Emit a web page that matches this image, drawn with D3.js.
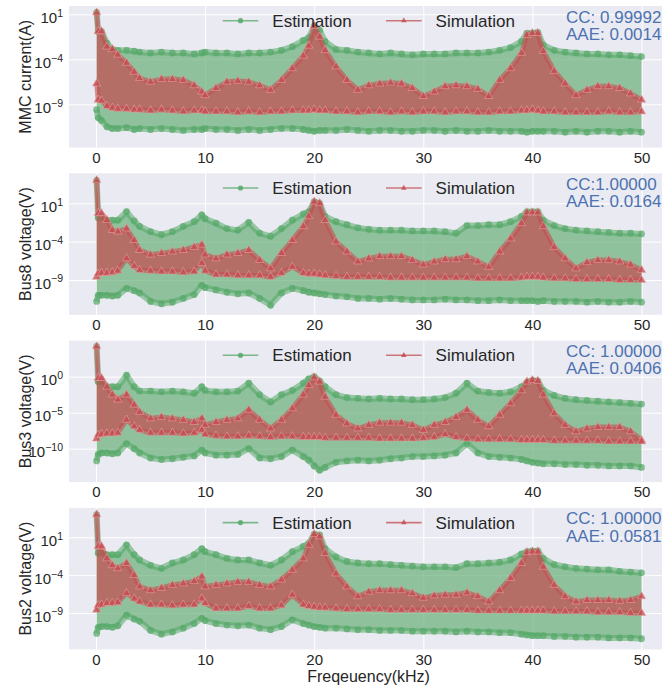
<!DOCTYPE html>
<html>
<head>
<meta charset="utf-8">
<script src="https://cdn.jsdelivr.net/npm/d3@7"></script>
<style>
body { margin: 0; background: #fff; }
text { font-family: "Liberation Sans", Arial, sans-serif; }
</style>
</head>
<body>
<script>
var w = 662;
var h = 689;

// frequency points (kHz)
var freqs = [0.06, 0.2, 0.5, 1, 1.5, 2, 2.8, 3.5, 4,
    5, 6, 7, 8, 9, 9.7, 10,
    11, 12, 13, 14, 15, 16, 17, 18, 19, 19.5, 20, 20.5, 21,
    22, 23, 24, 25, 26, 27, 28, 29, 30, 31, 32, 33, 34, 35, 36, 37, 38, 39,
    39.5, 40, 40.5, 41, 42, 43, 44, 45, 46, 47, 48, 49, 50];

// all values below are log10 of the magnitude: upper / lower envelope of each spectrum
var mmcEstHi = [1.2, -0.9, -0.9, -2.2, -2.9, -3.0, -3.0, -3.1, -3.2,
    -3.3, -3.2, -3.3, -3.3, -3.4, -3.3, -3.2,
    -3.3, -3.3, -3.4, -3.3, -3.3, -3.2, -3.0, -2.6, -1.9, -1.6, -0.3, -0.8, -2.0,
    -2.9, -3.0, -3.2, -3.3, -3.4, -3.3, -3.4, -3.5, -3.4, -3.4, -3.4, -3.3, -3.3, -3.3, -3.2, -3.0, -2.7, -2.0,
    -1.1, -1.1, -1.0, -2.4, -3.0, -3.2, -3.3, -3.4, -3.4, -3.5, -3.5, -3.6, -3.7];
var mmcEstLo = [-9.6, -10.5, -10.8, -11.5, -11.7, -11.7, -11.6, -11.8, -11.7,
    -11.8, -11.7, -11.8, -11.9, -11.8, -11.8, -11.7,
    -11.8, -11.8, -11.9, -11.8, -11.9, -11.8, -11.7, -11.7, -11.8, -11.9, -12.0, -11.9, -11.9,
    -11.9, -11.8, -11.9, -12.0, -11.9, -11.9, -12.0, -12.0, -11.9, -11.9, -12.0, -11.9, -12.0, -12.0, -11.9, -12.0, -12.0, -12.0,
    -12.1, -12.0, -12.0, -12.0, -12.0, -12.1, -12.0, -12.1, -12.0, -12.0, -12.1, -12.0, -12.1];
var mmcSimHi = [1.2, -0.9, -0.9, -2.6, -2.9, -3.5, -4.4, -5.4, -6.1,
    -6.5, -6.2, -6.2, -6.3, -6.9, -7.6, -8.0,
    -7.2, -6.5, -6.4, -6.5, -6.9, -7.4, -6.3, -5.0, -3.6, -2.5, -0.3, -1.5, -3.0,
    -4.8, -6.3, -7.4, -6.9, -6.7, -6.6, -6.7, -7.2, -8.1, -7.6, -7.0, -6.9, -7.0, -7.3, -8.1, -6.3, -5.0, -3.3,
    -1.3, -1.1, -1.1, -3.1, -5.3, -6.7, -8.0, -7.4, -7.0, -7.0, -7.2, -7.8, -8.5];
var mmcSimLo = [-6.7, -8.5, -8.6, -9.2, -9.4, -9.5, -9.5, -9.6, -9.6,
    -9.7, -9.6, -9.7, -9.8, -9.7, -9.7, -9.8,
    -9.8, -9.8, -9.9, -9.8, -9.9, -9.8, -9.8, -9.7, -9.7, -9.7, -9.6, -9.7, -9.7,
    -9.8, -9.8, -9.9, -9.8, -9.8, -9.9, -9.8, -9.9, -9.8, -9.8, -9.9, -9.8, -9.8, -9.9, -9.9, -9.8, -9.8, -9.7,
    -9.7, -9.6, -9.7, -9.8, -9.8, -9.9, -9.9, -9.9, -9.9, -9.8, -9.9, -9.9, -9.8];

var bus8EstHi = [4.0, -0.9, -0.9, -1.2, -1.2, -1.2, -0.1, -1.3, -2.0,
    -2.7, -3.1, -2.7, -2.0, -1.4, -0.5, -1.0,
    -1.6, -2.3, -2.5, -1.5, -2.9, -3.3, -2.3, -1.2, -0.4, -0.1, 1.2, 1.0, -0.7,
    -1.4, -1.8, -2.2, -2.4, -2.5, -2.5, -2.5, -2.6, -2.6, -2.6, -2.7, -2.9, -1.9, -1.9, -1.8, -1.8, -1.4, -0.7,
    -0.1, -0.1, -0.1, -1.2, -1.9, -2.3, -2.5, -2.6, -2.7, -2.8, -2.9, -2.9, -3.0];
var bus8EstLo = [-11.8, -11.0, -11.0, -11.0, -11.1, -11.0, -10.1, -10.4, -10.7,
    -11.8, -12.1, -11.9, -11.4, -10.9, -9.7, -10.0,
    -10.3, -10.6, -10.8, -10.7, -11.4, -12.3, -10.7, -10.1, -10.4, -10.6, -10.7, -10.8, -10.9,
    -11.1, -11.2, -11.4, -11.4, -11.5, -11.4, -11.5, -11.6, -11.6, -11.6, -11.5, -11.6, -11.6, -11.7, -11.7, -11.6, -11.7, -11.7,
    -11.7, -11.7, -11.8, -11.7, -11.8, -11.8, -11.8, -11.9, -11.8, -11.9, -11.9, -11.8, -11.9];
var bus8SimHi = [4.0, -0.3, -0.3, -1.2, -2.5, -2.7, -2.3, -3.8, -5.1,
    -5.7, -5.5, -5.3, -5.1, -4.7, -4.4, -5.7,
    -6.2, -5.7, -5.5, -5.1, -6.4, -7.5, -5.5, -3.8, -2.0, -0.7, 1.2, 1.0, -1.2,
    -4.0, -5.3, -6.6, -6.2, -5.9, -5.9, -5.9, -6.4, -7.0, -6.6, -6.3, -6.3, -5.9, -6.6, -7.3, -5.3, -3.6, -1.6,
    -0.2, -0.2, -0.2, -2.0, -4.7, -6.2, -7.5, -6.7, -6.4, -6.4, -6.6, -7.0, -7.7];
var bus8SimLo = [-8.6, -8.2, -8.1, -8.1, -8.0, -7.8, -6.2, -7.2, -7.7,
    -7.8, -7.9, -7.9, -8.0, -7.9, -6.8, -7.8,
    -8.3, -8.3, -8.4, -8.4, -8.4, -8.6, -8.1, -7.3, -8.1, -8.2, -8.2, -8.3, -8.4,
    -8.5, -8.6, -8.6, -8.6, -8.6, -8.7, -8.7, -8.7, -8.7, -8.7, -8.7, -8.7, -8.7, -8.8, -8.8, -8.8, -8.8, -8.7,
    -8.6, -8.6, -8.6, -8.7, -8.8, -8.8, -8.9, -8.9, -8.9, -8.9, -9.0, -9.0, -9.0];

var bus3EstHi = [4.2, -0.7, -0.7, -1.4, -1.4, -1.4, 0.2, -1.4, -2.0,
    -2.0, -2.1, -2.0, -2.1, -2.3, -1.4, -1.9,
    -2.1, -2.1, -2.0, -0.9, -2.5, -3.5, -2.5, -1.9, -0.9, -0.3, 0.0, -0.6, -1.4,
    -2.5, -2.9, -3.0, -3.1, -3.0, -3.1, -3.1, -3.2, -3.2, -3.1, -2.9, -2.3, -0.9, -2.0, -2.2, -2.3, -2.1, -1.4,
    -0.8, -0.5, -0.6, -1.9, -2.6, -3.0, -3.2, -3.3, -3.4, -3.5, -3.6, -3.7, -3.8];
var bus3EstLo = [-11.7, -10.8, -10.6, -10.6, -10.7, -10.6, -9.3, -10.0, -10.6,
    -11.3, -11.5, -11.4, -11.2, -11.0, -10.2, -10.6,
    -10.9, -10.9, -10.8, -10.0, -11.3, -11.4, -11.1, -10.2, -11.1, -11.6, -12.4, -13.0, -12.6,
    -11.9, -11.7, -11.6, -11.7, -11.6, -11.4, -11.3, -11.1, -11.1, -11.0, -10.9, -10.6, -9.3, -10.6, -11.1, -11.2, -11.3, -11.5,
    -11.7, -11.9, -12.0, -12.1, -12.1, -12.2, -12.2, -12.3, -12.3, -12.4, -12.4, -12.4, -12.6];
var bus3SimHi = [4.2, -0.2, -0.2, -1.4, -2.5, -3.2, -2.5, -3.9, -4.9,
    -5.8, -5.6, -5.8, -6.0, -6.3, -5.8, -6.7,
    -6.3, -6.0, -5.8, -4.6, -6.0, -7.2, -6.0, -4.4, -2.5, -1.2, -0.1, -0.7, -2.8,
    -5.3, -6.5, -7.2, -6.7, -6.4, -6.4, -6.4, -6.7, -7.4, -6.7, -6.3, -5.6, -4.6, -6.0, -6.9, -5.3, -3.7, -1.9,
    -0.7, -0.5, -0.6, -2.5, -5.1, -6.7, -7.6, -7.2, -7.0, -7.0, -7.0, -7.6, -8.8];
var bus3SimLo = [-8.6, -8.1, -8.0, -7.9, -7.9, -7.8, -6.0, -6.9, -7.4,
    -7.8, -7.8, -7.8, -7.9, -7.8, -7.4, -8.0,
    -8.2, -8.3, -8.3, -8.2, -8.3, -8.4, -8.3, -8.3, -8.4, -8.4, -8.4, -8.4, -8.5,
    -8.5, -8.5, -8.5, -8.5, -8.6, -8.6, -8.6, -8.6, -8.5, -8.4, -8.0, -8.4, -8.6, -8.7, -8.7, -8.7, -8.7, -8.8,
    -8.8, -8.8, -8.8, -8.8, -8.9, -8.9, -8.9, -8.9, -8.9, -9.0, -9.0, -9.0, -9.0];

var bus2EstHi = [4.0, -1.1, -1.1, -1.3, -1.3, -1.3, 0.0, -1.3, -2.0,
    -2.7, -3.1, -2.4, -2.0, -1.3, -0.5, -0.9,
    -1.3, -1.8, -2.0, -2.0, -2.4, -2.7, -2.0, -0.9, -0.2, 0.2, 1.4, 1.3, -0.5,
    -1.6, -2.2, -2.4, -2.5, -2.5, -2.6, -2.7, -2.8, -2.9, -2.9, -2.9, -3.0, -2.5, -2.5, -2.4, -2.3, -2.0, -1.2,
    -0.9, -0.8, -0.8, -1.8, -2.6, -2.9, -3.1, -3.2, -3.3, -3.3, -3.5, -3.6, -3.7];
var bus2EstLo = [-11.7, -10.9, -10.8, -10.8, -10.9, -10.7, -9.3, -9.8, -10.1,
    -11.3, -11.8, -11.5, -11.0, -10.4, -9.7, -10.0,
    -10.4, -10.6, -10.7, -10.6, -11.0, -11.2, -10.8, -9.9, -10.4, -10.6, -10.8, -10.9, -11.0,
    -11.0, -11.1, -11.2, -11.2, -11.3, -11.3, -11.3, -11.4, -11.4, -11.4, -11.4, -11.5, -11.4, -11.5, -11.5, -11.6, -11.6, -11.8,
    -11.9, -12.0, -12.0, -12.0, -12.1, -12.1, -12.2, -12.2, -12.2, -12.3, -12.3, -12.3, -12.4];
var bus2SimHi = [4.0, -0.2, -0.2, -1.8, -2.7, -3.1, -2.4, -4.0, -5.5,
    -6.0, -5.7, -5.3, -5.1, -4.8, -4.2, -5.5,
    -5.3, -5.1, -4.9, -4.9, -5.3, -5.5, -4.6, -3.3, -1.8, 0.0, 1.4, 1.1, -1.1,
    -3.8, -5.5, -6.8, -6.2, -6.0, -6.0, -6.0, -6.4, -7.0, -6.7, -6.6, -6.6, -6.3, -6.8, -7.5, -6.0, -4.4, -2.4,
    -1.0, -0.9, -0.9, -2.9, -5.3, -6.8, -7.5, -7.3, -7.3, -7.3, -7.4, -7.3, -6.8];
var bus2SimLo = [-8.6, -8.0, -7.9, -7.7, -7.7, -7.6, -6.4, -7.1, -7.5,
    -7.9, -7.9, -8.0, -7.9, -7.9, -7.1, -7.7,
    -8.4, -8.4, -8.4, -8.1, -8.4, -8.4, -8.0, -6.6, -7.9, -8.1, -8.2, -8.3, -8.3,
    -8.4, -8.5, -8.5, -8.5, -8.5, -8.6, -8.6, -8.6, -8.6, -8.6, -8.6, -8.6, -8.6, -8.7, -8.7, -8.7, -8.7, -8.7,
    -8.7, -8.7, -8.7, -8.7, -8.8, -8.8, -8.8, -8.8, -8.9, -8.9, -8.9, -9.0, -9.0];

var yLabels = ["MMC current(A)", "Bus8 voltage(V)", "Bus3 voltage(V)", "Bus2 voltage(V)"];
var ccTexts = ["CC: 0.99992", "CC:1.00000", "CC: 1.00000", "CC: 1.00000"];
var aaeTexts = ["AAE: 0.0014", "AAE: 0.0164", "AAE: 0.0406", "AAE: 0.0581"];
var xTicks = [0, 10, 20, 30, 40, 50];
var yTickExps = [[1, -4, -9], [1, -4, -9], [0, -5, -10], [1, -4, -9]];
var seriesNames = ["Estimation", "Simulation"];

var estHi = [mmcEstHi, bus8EstHi, bus3EstHi, bus2EstHi];
var estLo = [mmcEstLo, bus8EstLo, bus3EstLo, bus2EstLo];
var simHi = [mmcSimHi, bus8SimHi, bus3SimHi, bus2SimHi];
var simLo = [mmcSimLo, bus8SimLo, bus3SimLo, bus2SimLo];

// layout
var left = 69, right = 668, top0 = 6, step = 167.3, ph = 141.5;
var yDomExp = [[-13.8, 1.92], [-13.54, 4.91], [-14.64, 5.01], [-13.81, 4.88]];
var green = "#55a868", red = "#c44e52", blue = "#4c72b0", ink = "#262626";

var svg = d3.select("body")
    .append("svg")
    .attr("width", w)
    .attr("height", h);

var x = d3.scaleLinear()
    .domain([0, 50])
    .range([96, 641.5]);

var idx = d3.range(freqs.length);
var sup = function(e) { return String(e).replace("-", "\u2212"); };

yLabels.forEach(function(label, k) {
    var top = top0 + k * step;
    var y = d3.scaleLog()
        .domain([Math.pow(10, yDomExp[k][0]), Math.pow(10, yDomExp[k][1])])
        .range([top + ph, top]);
    var g = svg.append("g");

    g.append("rect")
        .attr("x", left).attr("y", top)
        .attr("width", right - left).attr("height", ph)
        .attr("fill", "#eaeaf2");

    // grid lines
    var xg = g.append("g")
        .attr("transform", "translate(0," + (top + ph) + ")")
        .call(d3.axisBottom(x).tickValues(xTicks).tickSize(-ph).tickFormat(""));
    var yg = g.append("g")
        .attr("transform", "translate(" + left + ",0)")
        .call(d3.axisLeft(y).tickValues(yTickExps[k].map(function(e) { return Math.pow(10, e); }))
            .tickSize(-(right - left)).tickFormat(""));
    [xg, yg].forEach(function(a) {
        a.select(".domain").remove();
        a.selectAll("line").attr("stroke", "#fff").attr("stroke-width", 1);
    });

    // tick labels
    var xl = g.append("g")
        .attr("transform", "translate(0," + (top + ph) + ")")
        .call(d3.axisBottom(x).tickValues(xTicks).tickSize(0).tickPadding(4.5).tickFormat(d3.format("d")));
    xl.select(".domain").remove();
    xl.selectAll("text").attr("font-size", 15).attr("fill", ink)
        .style("font-family", "'Liberation Sans', Arial, sans-serif");

    var yl = g.append("g")
        .attr("transform", "translate(" + left + ",0)")
        .call(d3.axisLeft(y).tickValues(yTickExps[k].map(function(e) { return Math.pow(10, e); }))
            .tickSize(0).tickPadding(6));
    yl.select(".domain").remove();
    yl.selectAll("text")
        .attr("font-size", 15).attr("fill", ink).attr("dy", "0.55em")
        .style("font-family", "'Liberation Sans', Arial, sans-serif")
        .each(function(d, i) {
            var t = d3.select(this).text("");
            t.append("tspan").text("10");
            t.append("tspan").attr("dy", "-0.6em").attr("font-size", 10.5).text(sup(yTickExps[k][i]));
        });

    g.append("text")
        .attr("transform", "translate(25," + (top + ph / 2) + ") rotate(-90)")
        .attr("text-anchor", "middle").attr("dy", "0.35em")
        .attr("font-size", 16).attr("fill", ink)
        .text(label);

    // data
    var clipId = "clip" + k;
    svg.append("clipPath").attr("id", clipId)
        .append("rect").attr("x", left).attr("y", top).attr("width", right - left).attr("height", ph);
    var plot = g.append("g").attr("clip-path", "url(#" + clipId + ")");

    var bands = [
        {hi: estHi[k], lo: estLo[k], color: green, fillOp: 0.62},
        {hi: simHi[k], lo: simLo[k], color: red, fillOp: 0.72}
    ];
    bands.forEach(function(b, s) {
        var area = d3.area()
            .x(function(i) { return x(freqs[i]); })
            .y0(function(i) { return y(Math.pow(10, b.lo[i])); })
            .y1(function(i) { return y(Math.pow(10, b.hi[i])); });
        plot.append("path").datum(idx)
            .attr("d", area)
            .attr("fill", b.color).attr("fill-opacity", b.fillOp);

        [b.hi, b.lo].forEach(function(vals) {
            var line = d3.line()
                .x(function(i) { return x(freqs[i]); })
                .y(function(i) { return y(Math.pow(10, vals[i])); });
            plot.append("path").datum(idx)
                .attr("d", line)
                .attr("fill", "none")
                .attr("stroke", b.color)
                .attr("stroke-opacity", s === 0 ? 0.55 : 0.6)
                .attr("stroke-width", s === 0 ? 6 : 5)
                .attr("stroke-linejoin", "round");

            if (s === 0) {
                plot.append("g").selectAll("circle")
                    .data(idx).enter()
                    .append("circle")
                    .attr("cx", function(i) { return x(freqs[i]); })
                    .attr("cy", function(i) { return y(Math.pow(10, vals[i])); })
                    .attr("r", 3.4)
                    .attr("fill", green).attr("fill-opacity", 0.7);
            } else {
                plot.append("g").selectAll("path")
                    .data(idx).enter()
                    .append("path")
                    .attr("d", d3.symbol(d3.symbolTriangle).size(30))
                    .attr("transform", function(i) {
                        return "translate(" + x(freqs[i]) + "," + y(Math.pow(10, vals[i])) + ")";
                    })
                    .attr("fill", red).attr("fill-opacity", 0.8)
                    .attr("stroke", "#e6a3a3").attr("stroke-width", 0.6);
            }
        });
    });

    // legend
    var legend = g.append("g").attr("transform", "translate(0," + (top + 14.7) + ")");
    [[222.7, green], [386, red]].forEach(function(item, i) {
        legend.append("line")
            .attr("x1", item[0]).attr("x2", item[0] + 35.6)
            .attr("stroke", item[1]).attr("stroke-width", 1.6).attr("stroke-opacity", 0.75);
        if (i === 0) {
            legend.append("circle").attr("cx", item[0] + 17.8).attr("r", 2.6)
                .attr("fill", green).attr("fill-opacity", 0.85);
        } else {
            legend.append("path")
                .attr("d", d3.symbol(d3.symbolTriangle).size(14))
                .attr("transform", "translate(" + (item[0] + 17.8) + ",0)")
                .attr("fill", red).attr("fill-opacity", 0.85);
        }
        legend.append("text")
            .attr("x", item[0] + 49.6).attr("y", 6)
            .attr("font-size", 17).attr("fill", ink)
            .text(seriesNames[i]);
    });

    // metrics
    g.append("text").attr("x", 566).attr("y", top + 16.5)
        .attr("font-size", 17).attr("fill", blue).text(ccTexts[k]);
    g.append("text").attr("x", 566).attr("y", top + 33.8)
        .attr("font-size", 17).attr("fill", blue).text(aaeTexts[k]);
});

svg.append("text")
    .attr("x", 368.5).attr("y", 681.5)
    .attr("text-anchor", "middle")
    .attr("font-size", 16).attr("fill", ink)
    .text("Freqeuency(kHz)");
</script>
</body>
</html>
